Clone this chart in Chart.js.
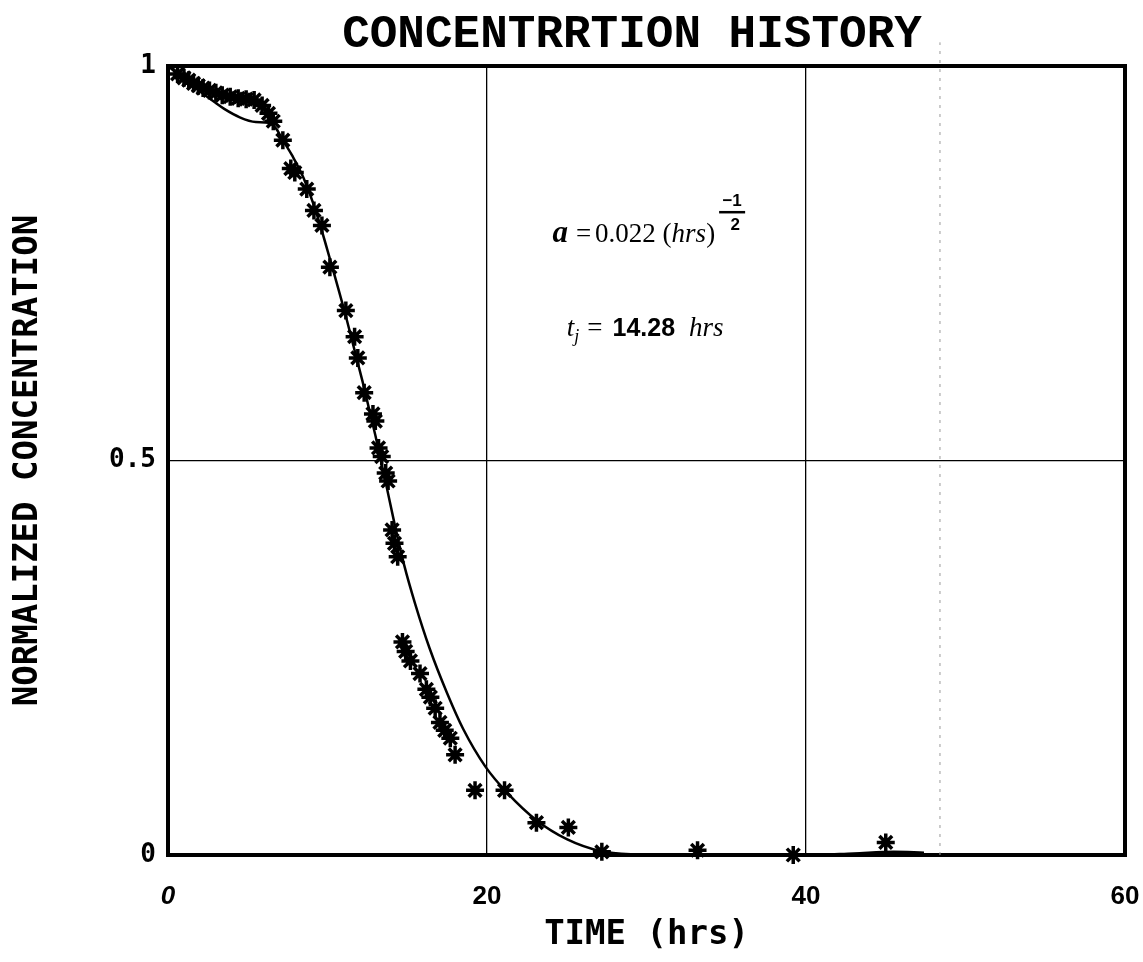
<!DOCTYPE html>
<html>
<head>
<meta charset="utf-8">
<script src="https://cdn.jsdelivr.net/npm/chart.js@4"></script>
<style>
  html, body { margin: 0; background: #fff; }
  #wrap { width: 1143px; height: 962px; position: relative; }
</style>
</head>
<body>
<div id="wrap"><canvas id="chart"></canvas></div>
<script>
const chartTitle = 'CONCENTRRTION HISTORY';
const xTitle = 'TIME (hrs)';
const yTitle = 'NORMALIZED CONCENTRATION';
const xTickValues = [0, 20, 40, 60];
const yTickValues = [0, 0.5, 1];

// measured points (asterisks)
const measuredTime = [0.6, 1.0, 1.3, 1.6, 1.9, 2.2, 2.6, 3.0, 3.4, 3.9, 4.4, 4.9, 5.4, 5.9, 6.3, 6.6,
  7.2, 7.7, 7.95, 8.7, 9.15, 9.65, 10.15, 11.15, 11.7, 11.9, 12.3, 12.85, 13.0, 13.2, 13.4, 13.65,
  13.8, 14.05, 14.2, 14.4, 14.7, 14.9, 15.2, 15.8, 16.2, 16.45, 16.75, 17.05, 17.35, 17.7, 18.0,
  19.25, 21.1, 23.1, 25.1, 27.2, 33.2, 39.2, 45.0];
const measuredConc = [0.99, 0.985, 0.982, 0.978, 0.975, 0.972, 0.969, 0.966, 0.963, 0.961, 0.959, 0.958, 0.957, 0.95, 0.94, 0.93,
  0.906, 0.87, 0.865, 0.844, 0.817, 0.798, 0.745, 0.69, 0.657, 0.63, 0.586, 0.559, 0.55, 0.516, 0.505, 0.484,
  0.474, 0.412, 0.395, 0.378, 0.27, 0.258, 0.246, 0.23, 0.21, 0.2, 0.186, 0.168, 0.158, 0.148, 0.127,
  0.082, 0.082, 0.041, 0.035, 0.004, 0.006, 0.0, 0.016];

// model curve
const fitTime = [0, 1, 2, 3, 3.5, 4.5, 5.5, 6.3, 6.8, 7.2, 7.8, 8.5, 9.3, 10.2, 11.2, 12.2, 13.0,
  13.6, 14.2, 14.8, 15.5, 16.4, 17.5, 18.5, 19.9, 21.3, 23.1, 25.0, 27.1, 29, 33, 40, 43, 45.5, 47.4];
const fitConc = [1.0, 0.984, 0.968, 0.953, 0.946, 0.935, 0.929, 0.928, 0.92, 0.906, 0.886, 0.858, 0.814, 0.752, 0.679, 0.6, 0.532,
  0.477, 0.42, 0.368, 0.318, 0.262, 0.205, 0.16, 0.112, 0.078, 0.044, 0.02, 0.005, 0.001, 0, 0, 0.002, 0.004, 0.003];

// faint dotted vertical line from the scan
const dottedTime = [48.4, 48.4];
const dottedConc = [0, 1.03];

const frame = {
  id: 'frame',
  beforeDatasetsDraw(chart) {
    const {ctx, chartArea: a} = chart;
    ctx.save();
    ctx.strokeStyle = '#000';
    ctx.lineWidth = 4;
    ctx.strokeRect(a.left, a.top, a.right - a.left, a.bottom - a.top);
    ctx.restore();
  }
};

function runs(ctx, x, y, parts) {
  parts.forEach(p => {
    ctx.font = p.font;
    ctx.fillText(p.text, x, y + (p.dy || 0));
    x += ctx.measureText(p.text).width + (p.gap || 0);
  });
  return x;
}

const notes = {
  id: 'notes',
  afterDraw(chart) {
    const {ctx} = chart;
    const xs = chart.scales.x, ys = chart.scales.y;
    ctx.save();
    ctx.fillStyle = '#000';
    ctx.textBaseline = 'alphabetic';

    // title
    ctx.textAlign = 'center';
    ctx.font = 'bold 46px "Liberation Mono", monospace';
    ctx.fillText(chartTitle, 632, 47);
    ctx.textAlign = 'left';

    // a = 0.022 (hrs)^(-1/2)
    let x = xs.getPixelForValue(24.1);
    let y = ys.getPixelForValue(0.777);
    x = runs(ctx, x, y, [
      {text: 'a', font: 'bold italic 31px "Liberation Serif", serif', gap: 8},
      {text: '=', font: '27px "Liberation Serif", serif', gap: 4},
      {text: '0.022 (', font: '27px "Liberation Serif", serif'},
      {text: 'hrs', font: 'italic 27px "Liberation Serif", serif'},
      {text: ')', font: '27px "Liberation Serif", serif'}
    ]);
    const fx = x + 4, fw = 26;
    ctx.fillRect(fx, y - 31, fw, 2.5);
    ctx.textAlign = 'center';
    ctx.font = 'bold 17px "Liberation Sans", sans-serif';
    ctx.fillText('\u22121', fx + fw / 2, y - 36);
    ctx.fillText('2', fx + fw / 2 + 3, y - 12);
    ctx.textAlign = 'left';

    // t_j = 14.28 hrs
    x = xs.getPixelForValue(25.0);
    y = ys.getPixelForValue(0.658);
    runs(ctx, x, y, [
      {text: 't', font: 'italic 27px "Liberation Serif", serif'},
      {text: 'j', font: 'italic 18px "Liberation Serif", serif', dy: 6, gap: 8},
      {text: '=', font: '27px "Liberation Serif", serif', gap: 10},
      {text: '14.28', font: 'bold 25px "Liberation Sans", sans-serif', gap: 14},
      {text: 'hrs', font: 'italic 27px "Liberation Serif", serif'}
    ]);
    ctx.restore();
  }
};

const ctx = document.getElementById('chart').getContext('2d');
const myChart = new Chart(ctx, {
  data: {
    datasets: [{
      type: 'line',
      data: dottedTime.map((t, i) => ({x: t, y: dottedConc[i]})),
      borderColor: '#9a9a9a',
      borderWidth: 1,
      borderDash: [3, 6],
      pointRadius: 0,
      clip: false
    }, {
      type: 'line',
      data: fitTime.map((t, i) => ({x: t, y: fitConc[i]})),
      borderColor: '#000',
      borderWidth: 2.5,
      pointRadius: 0,
      cubicInterpolationMode: 'monotone',
      fill: false,
      clip: false
    }, {
      type: 'scatter',
      data: measuredTime.map((t, i) => ({x: t, y: measuredConc[i]})),
      pointStyle: 'star',
      pointRadius: 9,
      pointBorderWidth: 3.5,
      borderColor: '#000',
      backgroundColor: '#000',
      clip: false
    }]
  },
  options: {
    responsive: true,
    maintainAspectRatio: false,
    animation: false,
    layout: { padding: { top: 66, right: 18, left: 0, bottom: 0 } },
    plugins: { legend: { display: false }, tooltip: { enabled: false } },
    scales: {
      x: {
        type: 'linear',
        min: 0,
        max: 60,
        afterBuildTicks: scale => { scale.ticks = xTickValues.map(v => ({value: v})); },
        afterFit: scale => { scale.height = 107; scale.paddingLeft = 0; scale.paddingRight = 0; },
        grid: { color: '#000', lineWidth: 1.3, drawTicks: false },
        border: { display: false },
        ticks: {
          color: '#000',
          padding: 26,
          callback: v => String(v),
          font: c => ({
            family: '"Liberation Sans", sans-serif',
            size: 26,
            weight: 'bold',
            style: c.tick && c.tick.value === 0 ? 'italic' : 'normal'
          })
        },
        title: {
          display: true,
          text: xTitle,
          color: '#000',
          font: { family: '"DejaVu Sans Mono", monospace', size: 34, weight: 'bold' },
          padding: { top: 0, bottom: 6 }
        }
      },
      y: {
        type: 'linear',
        min: 0,
        max: 1,
        afterBuildTicks: scale => { scale.ticks = yTickValues.map(v => ({value: v})); },
        afterFit: scale => { scale.width = 168; scale.paddingTop = 0; scale.paddingBottom = 0; },
        grid: { color: '#000', lineWidth: 1.3, drawTicks: false },
        border: { display: false },
        ticks: {
          color: '#000',
          padding: 12,
          callback: v => String(v),
          font: { family: '"DejaVu Sans Mono", monospace', size: 26, weight: 'bold' }
        },
        title: {
          display: true,
          text: yTitle,
          color: '#000',
          font: { family: '"DejaVu Sans Mono", monospace', size: 34, weight: 'bold' },
          padding: { top: 8, bottom: 0 }
        }
      }
    }
  },
  plugins: [frame, notes]
});
</script>
</body>
</html>
